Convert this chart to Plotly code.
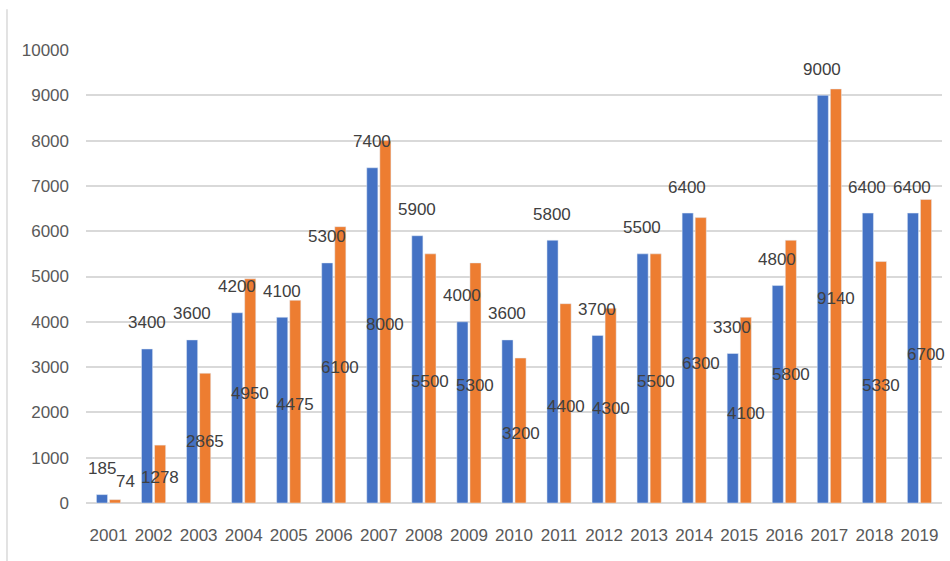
import plotly.graph_objects as go

years = ["2001", "2002", "2003", "2004", "2005", "2006", "2007", "2008", "2009", "2010",
         "2011", "2012", "2013", "2014", "2015", "2016", "2017", "2018", "2019"]
blue_vals = [185, 3400, 3600, 4200, 4100, 5300, 7400, 5900, 4000, 3600,
             5800, 3700, 5500, 6400, 3300, 4800, 9000, 6400, 6400]
orange_vals = [74, 1278, 2865, 4950, 4475, 6100, 8000, 5500, 5300, 3200,
               4400, 4300, 5500, 6300, 4100, 5800, 9140, 5330, 6700]
y_ticks = [0, 1000, 2000, 3000, 4000, 5000, 6000, 7000, 8000, 9000, 10000]

BLUE = "#4472C4"
ORANGE = "#ED7D31"
FONT = "Liberation Sans, Arial, sans-serif"
FS = 17
LABEL_COLOR = "#404040"
TICK_COLOR = "#595959"

fig = go.Figure()
fig.add_trace(go.Bar(x=years, y=blue_vals, marker_color=BLUE, name="A",
                     hoverinfo="x+y"))
fig.add_trace(go.Bar(x=years, y=orange_vals, marker_color=ORANGE, name="B",
                     hoverinfo="x+y"))

annotations = []
for i, v in enumerate(blue_vals):
    annotations.append(dict(x=i, y=v, xref="x", yref="y", text=str(v),
                            showarrow=False, xshift=-7, yshift=26,
                            yanchor="middle",
                            font=dict(family=FONT, size=FS, color=LABEL_COLOR)))
for i, v in enumerate(orange_vals):
    annotations.append(dict(x=i, y=max(v / 2, 550), xref="x", yref="y", text=str(v),
                            showarrow=False, xshift=17 if i == 0 else 6.5, yshift=-3,
                            yanchor="middle",
                            font=dict(family=FONT, size=FS, color=LABEL_COLOR)))

fig.update_layout(
    width=950, height=561,
    margin=dict(l=86, r=8, t=50, b=58),
    paper_bgcolor="white", plot_bgcolor="white",
    barmode="group", bargap=0.42, bargroupgap=0.15,
    showlegend=False,
    annotations=annotations,
    shapes=[dict(type="line", xref="paper", yref="paper",
                 x0=-0.0923, x1=-0.0923, y0=1.09, y1=-0.13,
                 line=dict(color="#D9D9D9", width=1.5))],
    font=dict(family=FONT, size=FS, color=TICK_COLOR),
)
fig.update_xaxes(type="category", categoryorder="array", categoryarray=years,
                 range=[-0.5, len(years) - 0.5],
                 showgrid=False, showline=False, ticks="",
                 ticklabelstandoff=20,
                 tickfont=dict(family=FONT, size=FS, color=TICK_COLOR))
fig.update_yaxes(range=[0, 10000], tickvals=y_ticks,
                 ticktext=[str(t) for t in y_ticks],
                 showgrid=True, gridcolor="#D9D9D9", gridwidth=1.5,
                 zeroline=True, zerolinecolor="#D9D9D9", zerolinewidth=1.5,
                 showline=False, ticks="", ticklabelstandoff=16,
                 tickfont=dict(family=FONT, size=FS, color=TICK_COLOR))

fig.write_html("out.html")
